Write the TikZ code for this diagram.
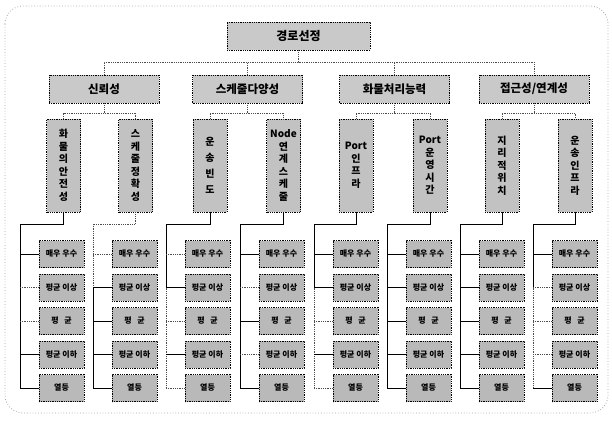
\documentclass[tikz,border=0pt]{standalone}
\usepackage{fontspec}
\newfontfamily\kr{Noto Sans CJK KR}
\newcommand\mkgroup[9]{%
  \foreach \j/\t/\yy in {1/매우 우수/254, 2/평균 이상/287.5, 3/평\hspace{0.7em}균/321, 4/평균 이하/354.5, 5/열등/388}{
    \node[lvbox] (c#1-\j) at (#2+41.5,\yy) {\t};
  }
  \coordinate (k#1) at (#2,224);
  \draw[#3] (b#1.south) |- (k#1) -- (k#1 |- c#1-2.west);
  \draw[#9] (k#1 |- c#1-2.west) -- (k#1 |- c#1-5.west);
  \draw[#4] (k#1 |- c#1-1.west) -- (c#1-1.west);
  \draw[#5] (k#1 |- c#1-2.west) -- (c#1-2.west);
  \draw[#6] (k#1 |- c#1-3.west) -- (c#1-3.west);
  \draw[#7] (k#1 |- c#1-4.west) -- (c#1-4.west);
  \draw[#8] (k#1 |- c#1-5.west) -- (c#1-5.west);
}
\begin{document}
\begin{tikzpicture}[x=1pt,y=-1pt,
  box/.style={draw=black, densely dotted, line width=0.8pt, inner sep=0pt, font=\kr\bfseries},
  topbox/.style={box, fill=gray!42, minimum width=143pt, minimum height=28pt, font=\kr\bfseries\fontsize{12}{14}\selectfont},
  catbox/.style={box, fill=gray!42, minimum width=110pt, minimum height=28pt, font=\kr\bfseries\fontsize{11.5}{14}\selectfont},
  subbox/.style={box, fill=gray!48, minimum width=34pt, minimum height=93pt, text width=32pt, align=center, font=\kr\bfseries\fontsize{10}{12.5}\selectfont},
  widesub/.style={subbox, font=\kr\bfseries\fontsize{10}{16}\selectfont},
  lvbox/.style={box, fill=gray!55, minimum width=45pt, minimum height=27pt, font=\kr\bfseries\fontsize{8}{9}\selectfont},
  sl/.style={draw=black, line width=0.8pt},
  dl/.style={draw=black!70, densely dotted, line width=0.8pt},
]
\useasboundingbox (0,0) rectangle (612,420);
\draw[gray!70, dotted, line width=0.8pt, rounded corners=18pt] (5,6) rectangle (608,413);

\node[topbox] (top) at (298.5,36) {경로선정};
\node[catbox] (a1) at (104,89) {신뢰성};
\node[catbox] (a2) at (247.5,89) {스케줄다양성};
\node[catbox] (a3) at (394.5,89) {화물처리능력};
\node[catbox] (a4) at (534,89) {접근성/연계성};

\node[subbox] (b1) at (63.5,165.5) {화\\물\\의\\안\\전\\성};
\node[subbox] (b2) at (135.5,165.5) {스\\케\\줄\\정\\확\\성};
\node[widesub] (b3) at (210,165.5) {운\\송\\빈\\도};
\node[subbox] (b4) at (283.5,165.5) {Node\\연\\계\\스\\케\\줄};
\node[subbox] (b5) at (356,165.5) {Port\\인\\프\\라};
\node[subbox] (b6) at (430,165.5) {Port\\운\\영\\시\\간};
\node[subbox] (b7) at (502,165.5) {지\\리\\적\\위\\치};
\node[subbox] (b8) at (575,165.5) {운\\송\\인\\프\\라};

\coordinate (t) at (298.5,62);
\draw[dl] (top.south) -- (t);
\draw[dl] (a1.north) |- (t) -| (a4.north);
\draw[dl] (a2.north) -- (a2.north |- t);
\draw[dl] (a3.north) -- (a3.north |- t);

\coordinate (j1) at (104,113);
\coordinate (j2) at (247.5,113);
\coordinate (j3) at (394.5,113);
\coordinate (j4) at (534,113);
\draw[dl] (a1.south) -- (j1);
\draw[dl] (a2.south) -- (j2);
\draw[dl] (a3.south) -- (j3);
\draw[dl] (a4.south) -- (j4);
\draw[dl] (b1.north) |- (j1) -| (b2.north);
\draw[dl] (b3.north) |- (j2) -| (b4.north);
\draw[dl] (b5.north) |- (j3) -| (b6.north);
\draw[dl] (b7.north) |- (j4) -| (b8.north);

\mkgroup{1}{20}{sl}{sl}{dl}{dl}{sl}{sl}{sl}
\mkgroup{2}{93}{dl}{dl}{sl}{sl}{sl}{sl}{sl}
\mkgroup{3}{166}{sl}{dl}{sl}{dl}{sl}{dl}{dl}
\mkgroup{4}{240}{sl}{sl}{dl}{sl}{dl}{sl}{sl}
\mkgroup{5}{314}{sl}{sl}{sl}{dl}{sl}{dl}{dl}
\mkgroup{6}{387}{sl}{sl}{sl}{sl}{sl}{sl}{sl}
\mkgroup{7}{460}{sl}{sl}{sl}{sl}{sl}{sl}{sl}
\mkgroup{8}{533}{sl}{sl}{dl}{dl}{dl}{sl}{dl}
\end{tikzpicture}
\end{document}
